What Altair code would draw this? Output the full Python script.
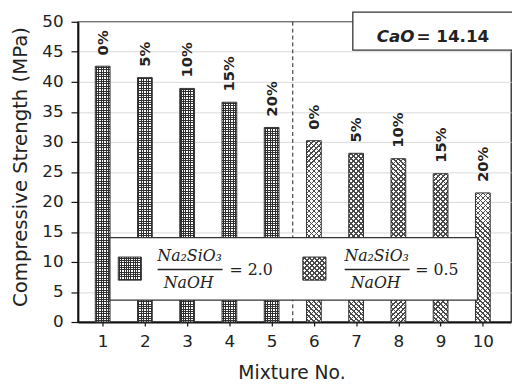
import math
import altair as alt

# ---------------- data ----------------
mixture = [1, 2, 3, 4, 5, 6, 7, 8, 9, 10]
strength = [42.6, 40.7, 38.9, 36.6, 32.4, 30.2, 28.1, 27.2, 24.7, 21.5]
pct_labels = ["0%", "5%", "10%", "15%", "20%", "0%", "5%", "10%", "15%", "20%"]
ratio_group = ["2.0", "2.0", "2.0", "2.0", "2.0", "0.5", "0.5", "0.5", "0.5", "0.5"]
legend_ratios = ["2.0", "0.5"]
y_ticks = [0, 5, 10, 15, 20, 25, 30, 35, 40, 45, 50]
x_ticks = mixture
numerator_text = "Na₂SiO₃"
denominator_text = "NaOH"
cao_name = "CaO"
cao_value = "= 14.14"

# ---------------- layout / style ----------------
FONT = "DejaVu Sans"
MATH_FONT = "DejaVu Serif"
W, H = 440, 305
BAR = 15
PPU = H / 50.0
CLEAR = "rgba(255,255,255,0)"
GRID_COL = "#2f2f2f"
HATCH_COL = "#4a4a4a"


def stripes(x1, y1, x2, y2, t_span, n_lines, frac, color, phase=0.5):
    cell = t_span / n_lines
    stops = []
    for i in range(n_lines + 2):
        s = (i + phase - frac / 2) * cell
        e = s + frac * cell
        if s >= 1:
            break
        s0, e0 = max(s, 0.0), min(e, 1.0)
        if e0 <= 0:
            continue
        stops += [
            {"offset": round(s0, 5), "color": CLEAR},
            {"offset": round(s0, 5), "color": color},
            {"offset": round(e0, 5), "color": color},
            {"offset": round(e0, 5), "color": CLEAR},
        ]
    return {"gradient": "linear", "x1": x1, "y1": y1, "x2": x2, "y2": y2, "stops": stops}


def grid_pair(w, h, spacing=2.4):
    a = stripes(0, 0, 1, 0, 1.0, max(1, round(w / spacing)), 0.42, GRID_COL)
    b = stripes(0, 0, 0, 1, 1.0, max(1, round(h / spacing)), 0.42, GRID_COL)
    return a, b


def hatch_pair(w, h, period=3.6):
    tmax = w * (w + h) / (w * w + h * h)
    extent = (w + h) / math.sqrt(2)
    n = max(1, round(extent / period))
    span = tmax * n / (extent / period)
    a = stripes(0, 0, 1, h / w, span, n, 0.3, HATCH_COL)
    b = stripes(1, 0, 0, h / w, span, n, 0.3, HATCH_COL)
    return a, b


records = []
for m, v, lab, g in zip(mixture, strength, pct_labels, ratio_group):
    h = v * PPU
    ga, gb = grid_pair(BAR, h) if g == legend_ratios[0] else hatch_pair(BAR, h)
    records.append({"Mixture": m, "Strength": v, "Label": lab, "Ratio": g, "gA": ga, "gB": gb})

xscale = alt.Scale(domain=[0.53, 10.55], nice=False, zero=False)
yscale = alt.Scale(domain=[y_ticks[0], y_ticks[-1]], nice=False)

base = alt.Chart(alt.Data(values=records)).encode(
    x=alt.X("Mixture:Q", scale=xscale, title="Mixture No.",
            axis=alt.Axis(values=x_ticks, format="d", grid=False, tickSize=4, tickWidth=1.2,
                          tickColor="#111", domainColor="#111", domainWidth=2,
                          labelPadding=8, labelFont=FONT, labelFontSize=17, labelColor="#222",
                          labelFlush=False, labelOverlap=False,
                          titleFont=FONT, titleFontSize=19, titleFontWeight="normal",
                          titleColor="#222", titleX=217, titleY=57,
                          titleAlign="center", titleBaseline="alphabetic")),
    y=alt.Y("Strength:Q", scale=yscale, stack=None, title="Compressive Strength (MPa)",
            axis=alt.Axis(values=y_ticks, format="d", grid=True, gridColor="#d9d9d9", gridWidth=1,
                          tickSize=7, tickWidth=1.2, tickColor="#111", domainColor="#111",
                          domainWidth=2, labelPadding=8, labelFont=FONT, labelFontSize=17,
                          labelColor="#222", titleFont=FONT, titleFontSize=20,
                          titleFontWeight="normal", titleColor="#222", titleX=-58, titleY=147,
                          titleAngle=270, titleAlign="center", titleBaseline="middle")),
)

bar_white = base.mark_bar(size=BAR, fill="white", stroke=None)
bar_a = base.mark_bar(size=BAR).encode(fill=alt.Fill("gA:N", scale=None, legend=None))
bar_b = base.mark_bar(size=BAR).encode(fill=alt.Fill("gB:N", scale=None, legend=None))
bar_outline = base.mark_bar(size=BAR, fillOpacity=0, stroke="#333", strokeWidth=1)

labels = base.mark_text(angle=270, align="left", baseline="middle", dx=11, font=FONT,
                        fontWeight="bold", fontSize=15, color="#222").encode(text="Label:N")

sep_x = (mixture[4] + mixture[5]) / 2
separator = alt.Chart(alt.Data(values=[{"x": sep_x}])).mark_rule(
    color="#222", strokeWidth=1, strokeDash=[4, 3]
).encode(x=alt.X("x:Q", scale=xscale), y=alt.value(0), y2=alt.value(H))


def one(**fields):
    return alt.Chart(alt.Data(values=[fields]))


# ---- CaO annotation box ----
cao_box = one(k=1).mark_rect(fill="white", stroke="#333", strokeWidth=1.3).encode(
    x=alt.value(279.3), x2=alt.value(446), y=alt.value(-9.7), y2=alt.value(28.7))
cao_t1 = one(t=cao_name).mark_text(align="right", baseline="alphabetic", font=FONT,
                                   fontStyle="italic", fontWeight="bold", fontSize=17,
                                   color="#222").encode(x=alt.value(342), y=alt.value(20.3), text="t:N")
cao_t2 = one(t=cao_value).mark_text(align="left", baseline="alphabetic", font=FONT,
                                    fontWeight="bold", fontSize=17,
                                    color="#222").encode(x=alt.value(344), y=alt.value(20.3), text="t:N")

# ---- legend ----
leg_box = one(k=1).mark_rect(fill="white", stroke="#333", strokeWidth=1.3).encode(
    x=alt.value(32.5), x2=alt.value(406), y=alt.value(219.3), y2=alt.value(282.7))

SW = 23.5
legend_layers = []
for i, (r, sx, numx, lx0, lx1, eqx) in enumerate(zip(
        legend_ratios, [41, 228.5], [113.5, 303.5], [81, 271], [147, 337], [154, 342.7])):
    ga, gb = grid_pair(SW, SW) if i == 0 else hatch_pair(SW, SW)
    enc = dict(x=alt.value(sx), x2=alt.value(sx + SW), y=alt.value(239), y2=alt.value(239 + SW))
    legend_layers += [
        one(k=1).mark_rect(fill="white").encode(**enc),
        one(k=1).mark_rect(fill=ga).encode(**enc),
        one(k=1).mark_rect(fill=gb).encode(**enc),
        one(k=1).mark_rect(fillOpacity=0, stroke="#333", strokeWidth=1).encode(**enc),
        one(t=numerator_text).mark_text(align="center", baseline="alphabetic", font=MATH_FONT,
                                        fontStyle="italic", fontSize=16, color="#222").encode(
            x=alt.value(numx), y=alt.value(242.7), text="t:N"),
        one(t=denominator_text).mark_text(align="center", baseline="alphabetic", font=MATH_FONT,
                                          fontStyle="italic", fontSize=16, color="#222").encode(
            x=alt.value(numx - 1), y=alt.value(270), text="t:N"),
        one(k=1).mark_rule(color="#222", strokeWidth=1.5).encode(
            x=alt.value(lx0), x2=alt.value(lx1), y=alt.value(251.7)),
        one(t="= " + r).mark_text(align="left", baseline="alphabetic", font=MATH_FONT,
                                  fontSize=16, color="#222").encode(
            x=alt.value(eqx), y=alt.value(257.7), text="t:N"),
    ]

chart = alt.layer(
    bar_white, bar_a, bar_b, bar_outline, labels, separator,
    cao_box, cao_t1, cao_t2, leg_box, *legend_layers
).properties(
    width=W, height=H,
    autosize=alt.AutoSizeParams(type="none"),
    padding={"left": 71, "top": 11, "right": 1, "bottom": 62},
).configure_view(stroke="#222", strokeWidth=1.3)

chart.save("out.html", embed_options={"renderer": "svg", "actions": False})
